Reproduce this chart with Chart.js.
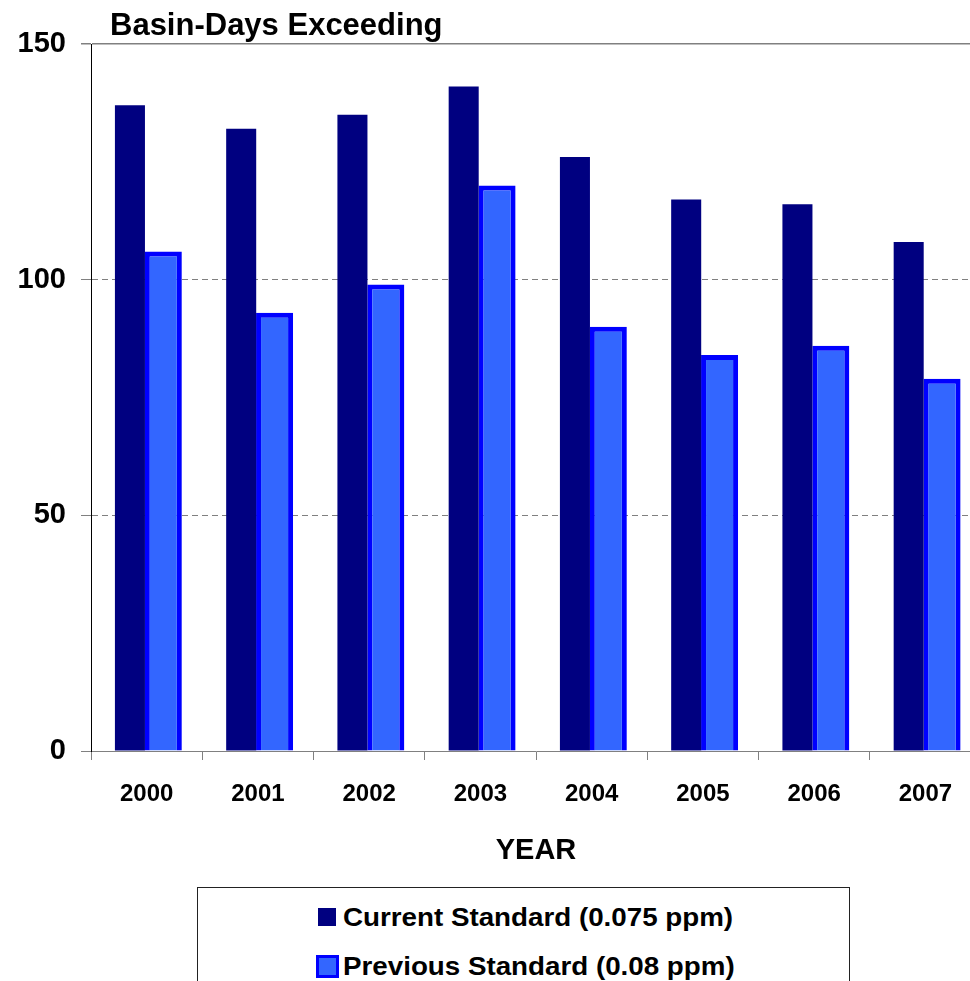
<!DOCTYPE html>
<html>
<head>
<meta charset="utf-8">
<title>Basin-Days Exceeding</title>
<script src="https://cdn.jsdelivr.net/npm/chart.js@4.4.1/dist/chart.umd.min.js"></script>
<style>
    html, body {
        margin: 0;
        padding: 0;
        background: #ffffff;
        overflow: hidden;
    }
    #wrap {
        position: relative;
        width: 970px;
        height: 981px;
        overflow: hidden;
    }
    #chart {
        position: absolute;
        left: 0;
        top: 0;
    }
    #legend {
        position: absolute;
        left: 197px;
        top: 887px;
        width: 653px;
        height: 130px;
        border: 1px solid #222222;
        box-sizing: border-box;
        font-family: 'Liberation Sans', Arial, sans-serif;
        font-weight: bold;
        font-size: 25px;
        color: #000000;
    }
    .legend-row {
        position: absolute;
        left: 117px;
        height: 26px;
        display: flex;
        align-items: center;
        white-space: nowrap;
    }
    .legend-swatch-box {
        width: 24px;
        height: 26px;
        display: flex;
        align-items: center;
        justify-content: center;
    }
    .legend-text {
        margin-left: 4px;
        display: inline-block;
        transform: scaleX(1.11);
        transform-origin: left center;
    }
</style>
</head>
<body>
<div id="wrap">
    <canvas id="chart" width="1000" height="870"></canvas>
    <div id="legend"></div>
</div>
<script>
// Basin-days above the ozone standard, per year
const years = ['2000', '2001', '2002', '2003', '2004', '2005', '2006', '2007'];
const currentStandard = [137, 132, 135, 141, 126, 117, 116, 108];
const previousStandard = [106, 93, 99, 120, 90, 84, 86, 79];
const yTicks = [0, 50, 100, 150];

const seriesLabels = ['Current Standard (0.075 ppm)', 'Previous Standard (0.08 ppm)'];
const chartTitle = 'Basin-Days Exceeding';
const axisTitle = 'YEAR';

const FONT = "'Liberation Sans', Arial, Helvetica, sans-serif";
const GRAY = '#808080';

Chart.defaults.font.family = FONT;
Chart.defaults.color = '#000000';

// Title sits just above the plot, left aligned a little inside the y axis
const titlePlugin = {
    id: 'cornerTitle',
    afterDraw(chart) {
        const { ctx, chartArea } = chart;
        ctx.save();
        ctx.font = 'bold 31px ' + FONT;
        ctx.fillStyle = '#000000';
        ctx.textAlign = 'left';
        ctx.textBaseline = 'alphabetic';
        ctx.fillText(chartTitle, chartArea.left + 19, chartArea.top - 9);
        ctx.restore();
    }
};

const chart = new Chart(document.getElementById('chart').getContext('2d'), {
    type: 'bar',
    data: {
        labels: years,
        datasets: [{
            label: seriesLabels[0],
            data: currentStandard,
            backgroundColor: '#000080',
            borderWidth: 0,
            categoryPercentage: 0.6,
            barPercentage: 0.9
        }, {
            label: seriesLabels[1],
            data: previousStandard,
            backgroundColor: '#3366FF',
            borderColor: '#0000FF',
            borderWidth: 5,
            categoryPercentage: 0.6,
            barPercentage: 1.11
        }]
    },
    options: {
        responsive: false,
        devicePixelRatio: 1,
        animation: false,
        layout: {
            padding: { top: 44, right: 19, left: 0, bottom: 0 }
        },
        plugins: {
            legend: { display: false },
            tooltip: { enabled: false }
        },
        scales: {
            x: {
                grid: {
                    offset: true,
                    drawOnChartArea: false,
                    drawTicks: true,
                    tickLength: 9,
                    tickColor: GRAY
                },
                border: { color: GRAY, width: 1 },
                ticks: {
                    font: { size: 24, weight: 'bold' },
                    color: '#000000',
                    padding: 20
                },
                title: {
                    display: true,
                    text: axisTitle,
                    font: { size: 29, weight: 'bold' },
                    color: '#000000',
                    padding: { top: 0, bottom: 2 }
                },
                afterFit(scale) {
                    scale.height = 119;
                }
            },
            y: {
                min: 0,
                max: 150,
                afterBuildTicks(scale) {
                    scale.ticks = yTicks.map(v => ({ value: v }));
                },
                grid: {
                    color: ctx => (ctx.tick && ctx.tick.value === 0) ? 'rgba(0,0,0,0)' : GRAY,
                    lineWidth: ctx => (ctx.tick && ctx.tick.value === 150) ? 1.5 : 1,
                    drawTicks: true,
                    tickLength: 10,
                    tickColor: GRAY,
                    tickBorderDash: []
                },
                border: {
                    color: '#000000',
                    width: 1,
                    dash: ctx => (ctx.tick && ctx.tick.value === 150) ? [] : [6, 4]
                },
                ticks: {
                    font: { size: 29, weight: 'bold' },
                    color: '#000000',
                    padding: 15
                },
                afterFit(scale) {
                    scale.width = 91;
                }
            }
        }
    },
    plugins: [titlePlugin]
});

// Legend box below the axis, built from the chart's own datasets
(function buildLegend() {
    const legend = document.getElementById('legend');
    const rowTops = [16, 65];
    chart.data.datasets.forEach((ds, i) => {
        const row = document.createElement('div');
        row.className = 'legend-row';
        row.style.top = rowTops[i] + 'px';

        const box = document.createElement('div');
        box.className = 'legend-swatch-box';
        const sw = document.createElement('div');
        if (ds.borderWidth) {
            sw.style.width = '17px';
            sw.style.height = '17px';
            sw.style.border = '3px solid ' + ds.borderColor;
        } else {
            sw.style.width = '18px';
            sw.style.height = '18px';
        }
        sw.style.background = ds.backgroundColor;
        box.appendChild(sw);

        const text = document.createElement('span');
        text.className = 'legend-text';
        text.textContent = ds.label;

        row.appendChild(box);
        row.appendChild(text);
        legend.appendChild(row);
    });
})();
</script>
</body>
</html>
